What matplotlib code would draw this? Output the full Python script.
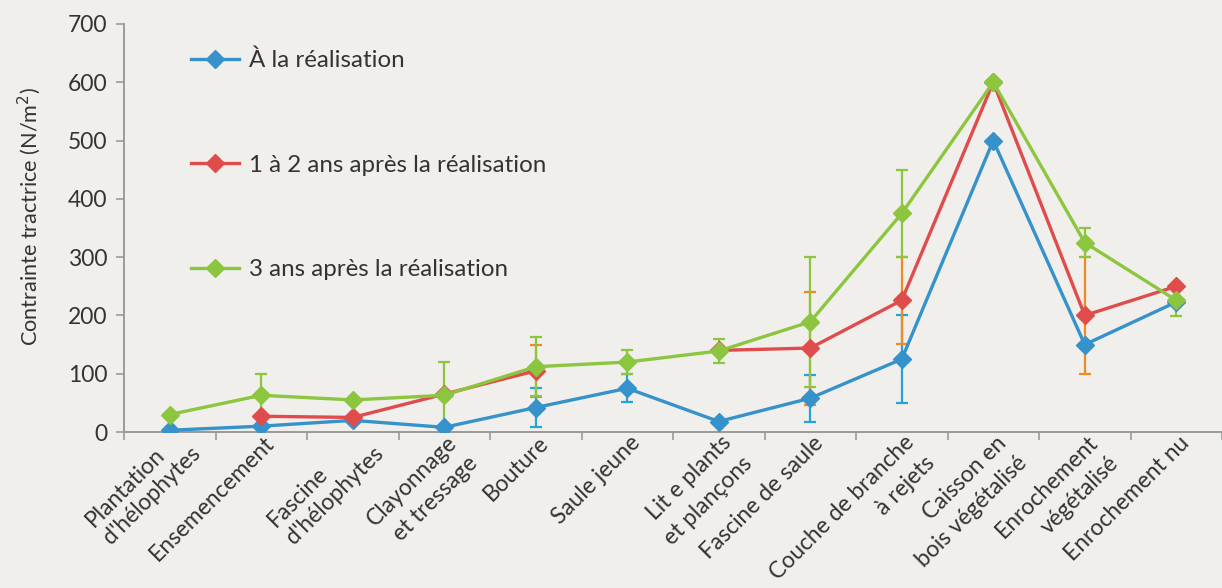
import matplotlib.pyplot as plt
import numpy as np

plt.rcParams["font.family"] = ["Lato", "DejaVu Sans"]

categories = [
    "Plantation\nd'hélophytes",
    "Ensemencement",
    "Fascine\nd'hélophytes",
    "Clayonnage\net tressage",
    "Bouture",
    "Saule jeune",
    "Lit e plants\net plançons",
    "Fascine de saule",
    "Couche de branche\nà rejets",
    "Caisson en\nbois végétalisé",
    "Enrochement\nvégétalisé",
    "Enrochement nu",
]

nan = np.nan
at_build = [3, 10, 20, 8, 42, 75, 18, 58, 125, 500, 150, 223]
at_build_err = [nan, nan, nan, nan, 33, 24, nan, 40, 75, nan, nan, nan]

after_1_2 = [nan, 27, 25, 65, 105, nan, 140, 144, 226, 600, 200, 250]
after_1_2_err = [nan, nan, nan, nan, 45, nan, nan, 97, 75, nan, 100, nan]

after_3 = [30, 63, 55, 63, 112, 120, 139, 189, 375, 600, 325, 226]
after_3_err = [nan, 37, nan, 57, 51, 20, 21, 111, 75, nan, 25, 27]

series = [
    ("À la réalisation", at_build, at_build_err, "#3592CB", "#22A5D8"),
    ("1 à 2 ans après la réalisation", after_1_2, after_1_2_err, "#E04B4B", "#F08A24"),
    ("3 ans après la réalisation", after_3, after_3_err, "#8CC63F", "#8CC63F"),
]

BG = "#F1EFEB"
AXIS = "#9A9A9A"
TEXT = "#333333"
LABEL_SIZE = 16.4
LINE_STEP = 14.8  # offset (points) between wrapped lines along the 45° normal

fig = plt.figure(figsize=(12.22, 5.88), dpi=100, facecolor=BG)
ax = fig.add_axes([0.1015, 0.2653, 0.8985, 0.6939], facecolor=BG)

x = np.arange(len(categories))
handles = []
for label, vals, errs, color, ecolor in series:
    vals = np.array(vals, dtype=float)
    errs = np.array(errs, dtype=float)
    m = ~np.isnan(errs)
    ax.errorbar(x[m], vals[m], yerr=errs[m], fmt="none", ecolor=ecolor,
                elinewidth=1.6, capsize=4.4, capthick=1.6, zorder=2)
    (ln,) = ax.plot(x, vals, color=color, lw=2.4, marker="D", ms=9.5,
                    markeredgecolor=color, zorder=3, label=label)
    handles.append(ln)

ax.set_xlim(-0.5, 11.42)
ax.set_ylim(0, 700)
ax.set_yticks(range(0, 701, 100))

# category labels drawn as rotated text under each category
ax.set_xticks([])
ax.set_xticks(np.arange(-0.5, 12, 1), minor=True)
ax.tick_params(axis="x", which="minor", length=6, color=AXIS, width=1.2)
label_kw = dict(xycoords=ax.get_xaxis_transform(), textcoords="offset points",
                rotation=45, rotation_mode="anchor", ha="right", va="top",
                fontsize=LABEL_SIZE, color=TEXT, annotation_clip=False)
for i, lab in enumerate(categories):
    if "hélophytes" in lab:
        # these two are left-aligned blocks in the original
        ax.annotate(lab, xy=(i, 0), xytext=(1.5, 5), multialignment="left",
                    linespacing=1.25, **label_kw)
        continue
    # right-aligned lines, one text per line
    for k, line in enumerate(lab.split("\n")):
        ax.annotate(line, xy=(i, 0),
                    xytext=(1.5 + k * LINE_STEP, -k * LINE_STEP), **label_kw)

ax.tick_params(axis="y", length=6, color=AXIS, width=1.2, labelsize=16.5,
               labelcolor=TEXT, pad=6)
for side in ["top", "right"]:
    ax.spines[side].set_visible(False)
for side in ["left", "bottom"]:
    ax.spines[side].set_color(AXIS)
    ax.spines[side].set_linewidth(1.4)
ax.set_ylabel("Contrainte tractrice (N/m$^2$)", fontsize=15.6, color=TEXT)
ax.yaxis.set_label_coords(-0.074, 0.527)

ax.legend(handles=handles, loc="upper left", bbox_to_anchor=(0.041, 0.99),
          frameon=False, fontsize=17.4, labelspacing=3.45, handlelength=2.0,
          handletextpad=0.4, labelcolor=TEXT)

fig.savefig("out.png", dpi=100, facecolor=BG)
